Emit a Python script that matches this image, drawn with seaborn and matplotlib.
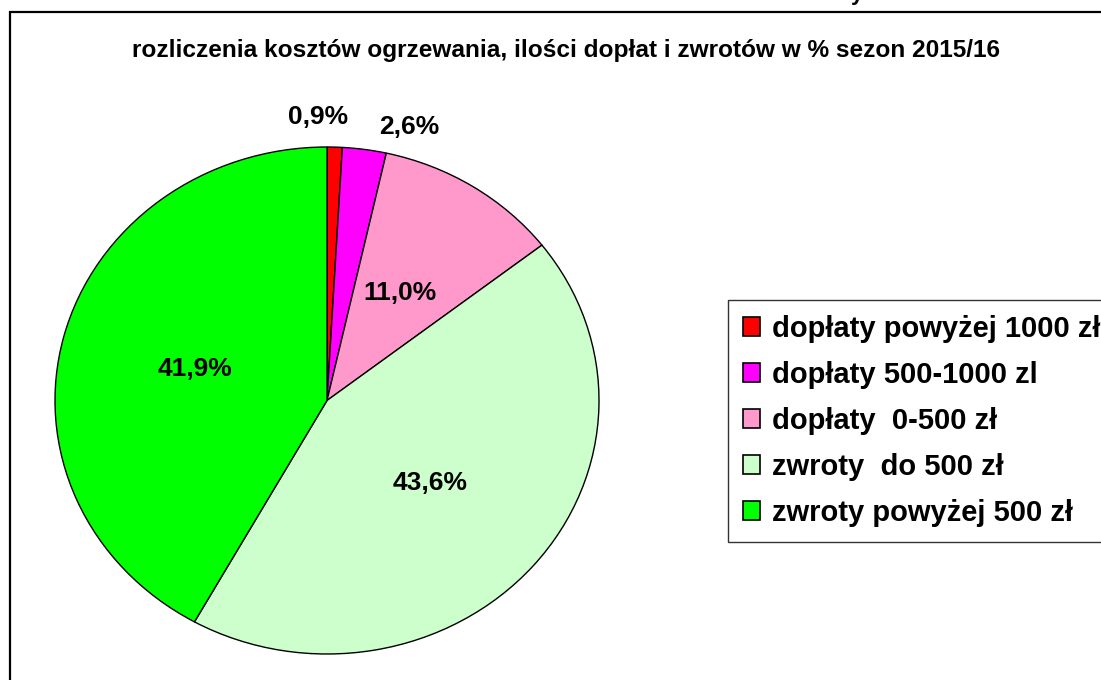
import numpy as np
import matplotlib
matplotlib.use('Agg')
import matplotlib.pyplot as plt
from matplotlib.patches import Rectangle
import seaborn as sns

# dane
kategorie = ['dopłaty powyżej 1000 zł', 'dopłaty 500-1000 zl', 'dopłaty  0-500 zł',
             'zwroty  do 500 zł', 'zwroty powyżej 500 zł']
procenty = [0.9, 2.6, 11.0, 43.6, 41.9]
kolory = ['#FF0000', '#FF00FF', '#FF99CC', '#CCFFCC', '#00FF00']
tytul = 'rozliczenia kosztów ogrzewania, ilości dopłat i zwrotów w % sezon 2015/16'

sns.set_style('white')
plt.rcParams['font.family'] = ['Liberation Sans', 'DejaVu Sans']
plt.rcParams['font.weight'] = 'bold'
plt.rcParams['text.color'] = 'black'

fig = plt.figure(figsize=(11.01, 6.80), dpi=100)

# ramka wykresu (ucięta z prawej i z dołu)
fig.patches.append(Rectangle((10 / 1101, -0.1), 1.2, 1.1 - 12 / 680, transform=fig.transFigure,
                             fill=False, edgecolor='black', linewidth=1.6))
# resztka tekstu nad ramką
fig.text(857 / 1101, 1.0, 'y', ha='center', va='baseline', fontsize=16, fontweight='bold')

fig.text(566 / 1101, 1 - 50 / 680, tytul, ha='center', va='center', fontsize=17.6,
         fontweight='bold', color='black')

ax = fig.add_axes([55 / 1101, 1 - 654 / 680, 544 / 1101, 507 / 680])
wedges, texts, autotexts = ax.pie(
    procenty, colors=sns.color_palette(kolory), startangle=90, counterclock=False,
    autopct=lambda p: f'{p:.1f}%'.replace('.', ','), pctdistance=0.5,
    wedgeprops=dict(edgecolor='black', linewidth=1.0),
    textprops=dict(fontsize=19, fontweight='bold', color='black'))
ax.set_aspect('auto')
ax.set_xlim(-1, 1)
ax.set_ylim(-1, 1)

# małe wycinki - etykiety na zewnątrz
przesuniecia = {0: 3.3, 1: -7.7}
for i, w in enumerate(wedges):
    if i in przesuniecia:
        kat = np.deg2rad((w.theta1 + w.theta2) / 2 + przesuniecia[i])
        autotexts[i].set_position((1.12 * np.cos(kat), 1.12 * np.sin(kat)))

leg = fig.legend(wedges, kategorie, loc='upper left', bbox_to_anchor=(728 / 1101, 1 - 300 / 680),
                 frameon=True, fancybox=False, shadow=False, edgecolor='black',
                 prop=dict(family='Liberation Sans', weight='bold', size=21),
                 handlelength=0.6, handleheight=0.6, handletextpad=0.4,
                 labelspacing=0.62, borderpad=0.5, borderaxespad=0, labelcolor='black')
leg.get_frame().set_linewidth(1.0)
for h in leg.legend_handles:
    h.set_edgecolor('black')
    h.set_linewidth(1.2)

fig.savefig('out.png', dpi=100)
